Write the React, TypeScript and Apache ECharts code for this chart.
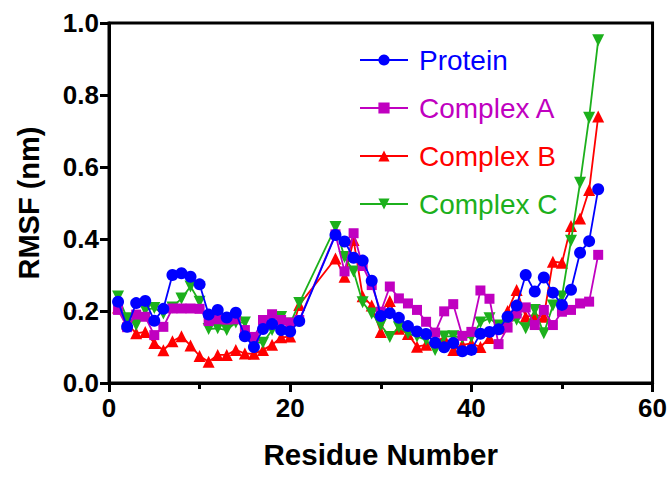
import React, { useEffect, useRef } from "react";
import * as echarts from "echarts";

const residues = [1,2,3,4,5,6,7,8,9,10,11,12,13,14,15,16,17,18,19,20,21,25,26,27,28,29,30,31,32,33,34,35,36,37,38,39,40,41,42,43,44,45,46,47,48,49,50,51,52,53,54];

const protein = [0.226,0.156,0.222,0.228,0.173,0.206,0.300,0.305,0.295,0.274,0.190,0.203,0.182,0.195,0.130,0.100,0.150,0.164,0.147,0.143,0.172,0.411,0.393,0.348,0.340,0.284,0.186,0.194,0.181,0.158,0.143,0.136,0.112,0.099,0.111,0.088,0.092,0.137,0.142,0.149,0.184,0.215,0.300,0.254,0.293,0.251,0.217,0.259,0.362,0.394,0.538];

const complexA = [0.203,0.155,0.190,0.184,0.133,0.156,0.207,0.207,0.207,0.206,0.172,0.177,0.176,0.177,0.147,0.128,0.175,0.191,0.175,0.168,0.175,0.413,0.310,0.416,0.325,0.272,0.198,0.268,0.235,0.221,0.203,0.170,0.140,0.199,0.219,0.131,0.142,0.257,0.234,0.108,0.154,0.193,0.210,0.161,0.203,0.161,0.198,0.203,0.221,0.226,0.356];

const complexB = [0.210,0.165,0.138,0.142,0.111,0.091,0.116,0.130,0.104,0.075,0.059,0.078,0.078,0.092,0.082,0.081,0.092,0.106,0.127,0.129,0.217,0.346,0.295,0.397,0.241,0.215,0.142,0.228,0.151,0.136,0.101,0.106,0.119,0.124,0.092,0.106,0.110,0.100,0.125,0.152,0.200,0.258,0.184,0.189,0.184,0.337,0.334,0.436,0.457,0.536,0.740];

const complexC = [0.240,0.180,0.161,0.203,0.208,0.193,0.210,0.235,0.268,0.226,0.150,0.152,0.147,0.168,0.168,0.112,0.112,0.147,0.183,0.165,0.222,0.433,0.350,0.310,0.224,0.193,0.161,0.128,0.155,0.138,0.129,0.120,0.092,0.129,0.130,0.125,0.128,0.168,0.180,0.160,0.170,0.176,0.152,0.203,0.138,0.215,0.240,0.395,0.556,0.737,0.952];

const xTicks = [0, 20, 40, 60];
const yTicks = [0, 0.2, 0.4, 0.6, 0.8, 1.0];

const FONT = "'Liberation Sans', Arial, sans-serif";

export default function App() {
  const ref = useRef<HTMLDivElement>(null);
  useEffect(() => {
    if (!ref.current) return;
    const chart = echarts.init(ref.current, null, { renderer: "svg" });
    const mk = (name: string, vals: number[], color: string, symbol: string, size: number, z: number) => ({
      name,
      type: "line",
      data: residues.map((r, i) => [r, vals[i]]),
      symbol,
      symbolSize: size,
      z,
      lineStyle: { color, width: 1.8 },
      itemStyle: { color, borderWidth: 0 },
      emphasis: { disabled: true },
    });
    chart.setOption({
      animation: false,
      backgroundColor: "#fff",
      grid: {
        left: 109, right: 17, top: 23, bottom: 94,
        show: true, borderColor: "#000", borderWidth: 3, backgroundColor: "transparent",
      },
      legend: {
        orient: "vertical",
        left: 354,
        top: 41,
        itemWidth: 48,
        itemHeight: 14,
        itemGap: 20,
        textStyle: { fontSize: 28, fontFamily: FONT, padding: [0, 0, 0, 6] },
        data: [
          { name: "Protein", textStyle: { color: "#0000ff" } },
          { name: "Complex A", textStyle: { color: "#c000c0" } },
          { name: "Complex B", textStyle: { color: "#ff0000" } },
          { name: "Complex C", textStyle: { color: "#1cb01c" } },
        ],
      },
      xAxis: {
        type: "value",
        min: xTicks[0],
        max: xTicks[xTicks.length - 1],
        interval: 20,
        name: "Residue Number",
        nameLocation: "middle",
        nameGap: 56,
        nameTextStyle: { fontSize: 29.5, fontWeight: "bold", fontFamily: FONT, color: "#000" },
        axisLine: { lineStyle: { color: "#000", width: 3 } },
        axisTick: { show: true, length: 9, lineStyle: { color: "#000", width: 3 } },
        minorTick: { show: true, splitNumber: 2, length: 6, lineStyle: { color: "#000", width: 3 } },
        splitLine: { show: false },
        axisLabel: { fontSize: 26, fontWeight: "bold", fontFamily: FONT, color: "#000", margin: 12 },
      },
      yAxis: {
        type: "value",
        min: yTicks[0],
        max: yTicks[yTicks.length - 1],
        interval: 0.2,
        name: "RMSF (nm)",
        nameLocation: "middle",
        nameGap: 66,
        nameTextStyle: { fontSize: 29, fontWeight: "bold", fontFamily: FONT, color: "#000" },
        axisLine: { lineStyle: { color: "#000", width: 3 } },
        axisTick: { show: true, length: 9, lineStyle: { color: "#000", width: 3 } },
        splitLine: { show: false },
        axisLabel: {
          fontSize: 26, fontWeight: "bold", fontFamily: FONT, color: "#000", margin: 10,
          formatter: (v: number) => v.toFixed(1),
        },
      },
      series: [
        mk("Complex B", complexB, "#ff0000", "triangle", 12, 2),
        mk("Complex C", complexC, "#1cb01c", "path://M0,0 L10,0 L5,9 Z", 12, 3),
        mk("Complex A", complexA, "#c000c0", "rect", 10, 4),
        mk("Protein", protein, "#0000ff", "circle", 12, 5),
      ],
    });
    return () => chart.dispose();
  }, []);
  return <div ref={ref} style={{ position: "fixed", left: 0, top: 0, width: 670, height: 477 }} />;
}
